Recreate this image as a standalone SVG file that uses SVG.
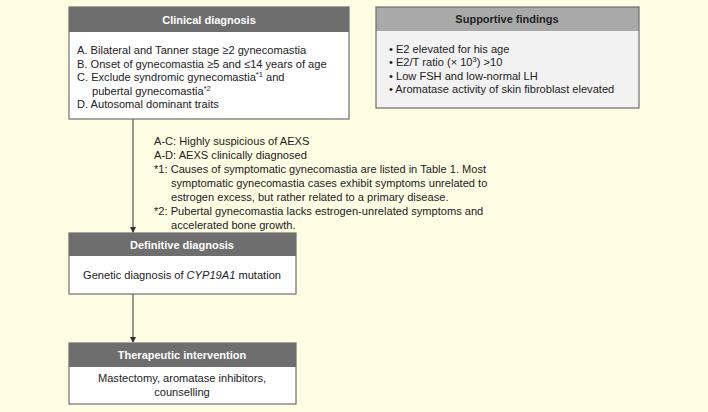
<svg xmlns="http://www.w3.org/2000/svg" width="708" height="412" viewBox="0 0 708 412">
<defs>
<style>
.t{font-family:"Liberation Sans",Arial,sans-serif;font-size:11.1px;fill:#222}
.h{font-family:"Liberation Sans",Arial,sans-serif;font-size:11px;font-weight:bold;fill:#fff;text-anchor:middle}
.hs{font-family:"Liberation Sans",Arial,sans-serif;font-size:11px;font-weight:bold;fill:#222;text-anchor:middle}
.box{fill:#fff;stroke:#6e6e6e;stroke-width:1.2}
.hd{fill:#6e6e6e}
.c{stroke:#333;stroke-width:1;fill:none}
</style>
<marker id="a" markerWidth="6" markerHeight="6" refX="5" refY="3" orient="auto" markerUnits="userSpaceOnUse">
<path d="M0,0 L6,3 L0,6 z" fill="#333"/>
</marker>
</defs>
<rect width="708" height="412" fill="#fffde4"/>

<g id="connectors">
<line class="c" x1="133" y1="119" x2="133" y2="232" marker-end="url(#a)"/>
<line class="c" x1="133" y1="294" x2="133" y2="342" marker-end="url(#a)"/>
</g>

<g id="clinical">
<rect class="box" x="69" y="7" width="280" height="112"/>
<rect class="hd" x="69" y="7" width="280" height="25"/>
<text class="h" x="209" y="23.5">Clinical diagnosis</text>
<text class="t" x="77" y="54">A. Bilateral and Tanner stage ≥2 gynecomastia</text>
<text class="t" x="77" y="67.5">B. Onset of gynecomastia ≥5 and ≤14 years of age</text>
<text class="t" x="77" y="81">C. Exclude syndromic gynecomastia<tspan font-size="7.5" dy="-4">*1</tspan><tspan dy="4"> and</tspan></text>
<text class="t" x="92" y="94.5">pubertal gynecomastia<tspan font-size="7.5" dy="-4">*2</tspan></text>
<text class="t" x="77" y="108">D. Autosomal dominant traits</text>
</g>

<g id="supportive">
<rect x="376" y="7" width="263" height="101" fill="#f2f2f2"/>
<rect x="376" y="7" width="263" height="24" fill="#a9a9a9"/>
<rect x="376" y="7" width="263" height="101" fill="none" stroke="#6e6e6e" stroke-width="1.2"/>
<text class="hs" x="507" y="23">Supportive findings</text>
<text class="t" x="389" y="53">• E2 elevated for his age</text>
<text class="t" x="389" y="66">• E2/T ratio (× 10<tspan font-size="7.5" dy="-4">3</tspan><tspan dy="4">) &gt;10</tspan></text>
<text class="t" x="389" y="80">• Low FSH and low-normal LH</text>
<text class="t" x="389" y="93">• Aromatase activity of skin fibroblast elevated</text>
</g>

<g id="notes">
<text class="t" x="154" y="145">A-C: Highly suspicious of AEXS</text>
<text class="t" x="154" y="159">A-D: AEXS clinically diagnosed</text>
<text class="t" x="154" y="173">*1: Causes of symptomatic gynecomastia are listed in Table 1. Most</text>
<text class="t" x="171" y="187">symptomatic gynecomastia cases exhibit symptoms unrelated to</text>
<text class="t" x="171" y="201">estrogen excess, but rather related to a primary disease.</text>
<text class="t" x="154" y="215">*2: Pubertal gynecomastia lacks estrogen-unrelated symptoms and</text>
<text class="t" x="171" y="229">accelerated bone growth.</text>
</g>

<g id="definitive">
<rect class="box" x="69" y="233" width="227" height="61"/>
<rect class="hd" x="69" y="233" width="227" height="23"/>
<text class="h" x="182" y="248.5">Definitive diagnosis</text>
<text class="t" x="182" y="279" text-anchor="middle">Genetic diagnosis of <tspan font-style="italic">CYP19A1</tspan> mutation</text>
</g>

<g id="therapeutic">
<rect class="box" x="69" y="343" width="227" height="61"/>
<rect class="hd" x="69" y="343" width="227" height="24"/>
<text class="h" x="182" y="359">Therapeutic intervention</text>
<text class="t" x="182" y="382" text-anchor="middle">Mastectomy, aromatase inhibitors,</text>
<text class="t" x="182" y="396" text-anchor="middle">counselling</text>
</g>
</svg>
